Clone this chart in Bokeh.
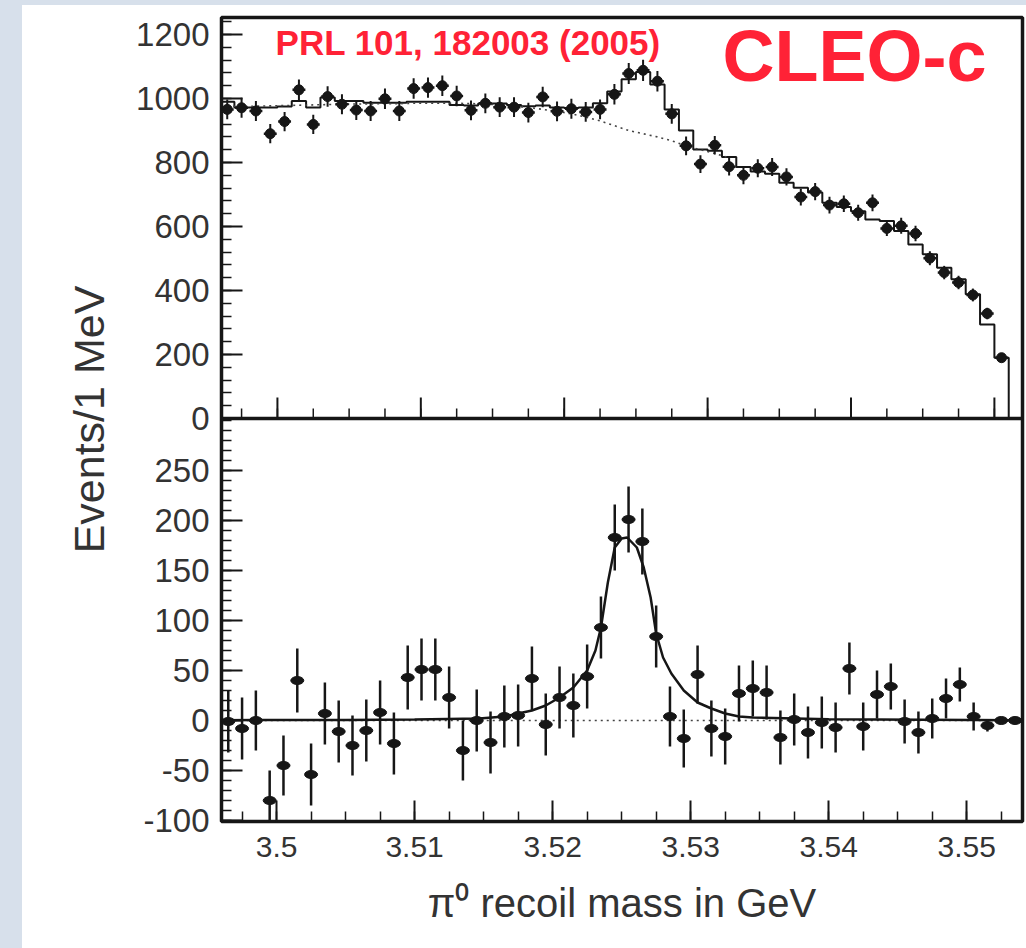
import numpy as np
from bokeh.plotting import figure
from bokeh.models import (Range1d, FixedTicker, NumeralTickFormatter,
                          Label, Span, Div, ColumnDataSource)
from bokeh.layouts import column, row
from bokeh.embed import file_html
from bokeh.resources import INLINE

# ------------------------------------------------------------------ data
bin_start = 3.4965      # GeV, centre of first 1 MeV bin
bin_width = 0.001       # GeV

# upper panel: events per 1 MeV
top_counts = [966, 971, 961, 890, 928, 1027, 919, 1006, 982, 964,
              961, 999, 961, 1031, 1034, 1040, 1008, 963, 985, 973,
              973, 956, 1005, 960, 968, 958, 966, 1013, 1078, 1088,
              1054, 952, 852, 795, 854, 787, 760, 782, 786, 755,
              692, 709, 667, 671, 643, 674, 594, 602, 578, 501,
              456, 425, 386, 328, 190]
top_errors = [31, 31, 31, 30, 30, 32, 30, 32, 31, 31,
              31, 32, 31, 32, 32, 32, 32, 31, 31, 31,
              31, 31, 32, 31, 31, 31, 31, 32, 33, 33,
              32, 31, 29, 28, 29, 28, 28, 28, 28, 27,
              26, 27, 26, 26, 25, 26, 24, 25, 24, 22,
              21, 21, 20, 18, 14]
# total fit (histogram, one level per bin)
top_fit = [990, 972, 972, 972, 975, 992, 972, 1003, 992, 992,
           987, 987, 987, 990, 990, 990, 980, 978, 984, 984,
           980, 976, 978, 972, 970, 972, 985, 1022, 1060, 1083,
           1044, 966, 900, 841, 837, 817, 786, 772, 765, 737,
           721, 706, 674, 661, 648, 622, 617, 586, 544, 513,
           471, 435, 388, 294, 190]
# background-only part of the fit (dotted), where it is visible
top_bkg = [975, 976, 976, 977, 978, 979, 980, 981, 982, 983,
           983, 984, 984, 985, 985, 985, 985, 984, 983, 980,
           977, 972, 966, 960, 952, 942, 930, 915, 900, 890,
           880, 868, 852, 840, 828, 815]

# lower panel: background-subtracted events per 1 MeV
bot_counts = [-1, -8, 0, -80, -45, 40, -54, 7, -11, -25,
              -10, 8, -23, 43, 51, 51, 23, -30, 0, -22,
              4, 5, 42, -4, 23, 15, 44, 93, 183, 201,
              179, 84, 4, -18, 46, -8, -16, 27, 32, 28,
              -17, 1, -12, -2, -7, 52, -6, 26, 34, -1,
              -12, 2, 22, 36, 4, -5, 0, 0]
bot_errors = [31, 31, 30, 30, 30, 32, 31, 31, 31, 30,
              31, 32, 31, 32, 31, 31, 31, 30, 31, 31,
              31, 31, 32, 31, 31, 32, 32, 31, 33, 33,
              33, 31, 30, 29, 29, 28, 28, 28, 28, 27,
              27, 26, 26, 26, 25, 26, 24, 24, 23, 22,
              21, 20, 20, 17, 14, 6, 3, 2]
# signal fit curve
sig_x = [3.4961, 3.5050, 3.5100, 3.5147, 3.5165, 3.5175, 3.5185, 3.5195,
         3.5205, 3.5215, 3.5225, 3.5231, 3.5235, 3.5240, 3.5245, 3.5250,
         3.5254, 3.5261, 3.5266, 3.5271, 3.5275, 3.5280, 3.5286, 3.5295,
         3.5305, 3.5315, 3.5325, 3.5335, 3.5345, 3.5400, 3.5540]
sig_y = [0.3, 0.6, 1.0, 2.0, 4, 7, 10, 15,
         23, 33, 50, 70, 93, 138, 173, 182,
         183, 173, 153, 123, 87, 63, 47, 30,
         18, 12, 7, 4, 3, 1.2, 0.3]
zero_x = [3.4961, 3.5540]
zero_y = [0, 0]

x_ticks = [3.50, 3.51, 3.52, 3.53, 3.54, 3.55]
top_y_ticks = [0, 200, 400, 600, 800, 1000, 1200]
bot_y_ticks = [-100, -50, 0, 50, 100, 150, 200, 250]

# ------------------------------------------------------------------ style
FONT = "Liberation Sans"
INK = "#161616"
TXT = "#333333"
RED = "#ff2236"
BLUE = "#d7e0eb"
FRAME_H = 804            # frame height in px
MAJOR_LEN = 21           # tick lengths in px
MINOR_LEN = 10

# ranges: one frame holds both panels
xb = Range1d(3.49601, 3.55404)          # lower panel x
yb = Range1d(-101, 703)                 # lower panel y
xt = Range1d(3.4961, 3.55196)           # upper panel x
yt = Range1d(-1259.375, 1253.125)       # upper panel y


def top_to_main(v):
    return round(yb.start + (v - yt.start) * (yb.end - yb.start) / (yt.end - yt.start), 6)


boundary = top_to_main(0)
top_per_px = (yt.end - yt.start) / FRAME_H

p = figure(width=1004, height=943, x_range=xb, y_range=yb,
           output_backend="svg", toolbar_location=None,
           min_border_left=199, min_border_right=4,
           min_border_top=12, min_border_bottom=127,
           background_fill_color="white", border_fill_color="white")
p.extra_x_ranges = {"topx": xt}
p.extra_y_ranges = {"topy": yt}
p.grid.visible = False
p.outline_line_color = INK
p.outline_line_width = 3.5

# ---- left axis (ticks of both panels)
y_major = [float(v) for v in bot_y_ticks] + [top_to_main(v) for v in top_y_ticks]
y_minor = [float(v) for v in range(-100, 301, 10)] + [top_to_main(v) for v in range(0, 1260, 40)]
overrides = {float(v): str(v) for v in bot_y_ticks}
overrides.update({top_to_main(v): str(v) for v in top_y_ticks})
ya = p.yaxis[0]
ya.ticker = FixedTicker(ticks=y_major, minor_ticks=y_minor)
ya.major_label_overrides = overrides
ya.axis_line_color = None
ya.major_tick_in = MAJOR_LEN
ya.major_tick_out = 0
ya.minor_tick_in = MINOR_LEN
ya.minor_tick_out = 0
ya.major_tick_line_color = INK
ya.minor_tick_line_color = INK
ya.major_tick_line_width = 2
ya.minor_tick_line_width = 1.5
ya.major_label_standoff = 12
ya.major_label_text_font = FONT
ya.major_label_text_font_size = "33px"
ya.major_label_text_color = TXT
ya.axis_label = "Events/1 MeV"
ya.axis_label_text_font = FONT
ya.axis_label_text_font_size = "43px"
ya.axis_label_text_font_style = "normal"
ya.axis_label_text_color = TXT
ya.axis_label_standoff = 20

x_minor = list(np.round(np.arange(3.4975, 3.5551, 0.0025), 4))

# ---- lower x axis
xa = p.xaxis[0]
xa.ticker = FixedTicker(ticks=x_ticks, minor_ticks=x_minor)
xa.formatter = NumeralTickFormatter(format="0.0[0]")
xa.axis_line_color = None
xa.major_tick_in = MAJOR_LEN
xa.major_tick_out = 0
xa.minor_tick_in = MINOR_LEN
xa.minor_tick_out = 0
xa.major_tick_line_color = INK
xa.minor_tick_line_color = INK
xa.major_tick_line_width = 2
xa.minor_tick_line_width = 1.5
xa.major_label_standoff = 15
xa.major_label_text_font = FONT
xa.major_label_text_font_size = "30px"
xa.major_label_text_color = TXT
xa.axis_label = "\u03c0\u2070 recoil mass in GeV"
xa.axis_label_text_font = FONT
xa.axis_label_text_font_size = "40px"
xa.axis_label_text_font_style = "normal"
xa.axis_label_text_color = TXT
xa.axis_label_standoff = 21

# ---- upper panel x ticks on the panel boundary (no labels)
p.segment(x0=x_ticks, y0=[0] * len(x_ticks), x1=x_ticks,
          y1=[MAJOR_LEN * top_per_px] * len(x_ticks),
          x_range_name="topx", y_range_name="topy", line_color=INK, line_width=2)
p.segment(x0=x_minor, y0=[0] * len(x_minor), x1=x_minor,
          y1=[MINOR_LEN * top_per_px] * len(x_minor),
          x_range_name="topx", y_range_name="topy", line_color=INK, line_width=1.5)

p.add_layout(Span(location=boundary, dimension="width", line_color=INK, line_width=3.5))

# ------------------------------------------------------------------ upper panel glyphs
tx = bin_start + bin_width * np.arange(len(top_counts))
tc = np.array(top_counts, dtype=float)
te = np.array(top_errors, dtype=float)
src_t = ColumnDataSource(dict(x=tx, y=tc, lo=tc - te, hi=tc + te,
                              xl=tx - 0.45 * bin_width, xr=tx + 0.45 * bin_width))

# fit histogram as steps
fx = bin_start + bin_width * np.arange(len(top_fit))
step_x, step_y = [], []
for c, lv in zip(fx, top_fit):
    step_x += [c - bin_width / 2, c + bin_width / 2]
    step_y += [lv, lv]
step_x.append(fx[-1] + bin_width / 2)
step_y.append(0)
p.line(step_x, step_y, x_range_name="topx", y_range_name="topy",
       line_color=INK, line_width=2)

bx = bin_start + bin_width * np.arange(len(top_bkg))
p.line(bx, top_bkg, x_range_name="topx", y_range_name="topy",
       line_color="#444444", line_width=1.6, line_dash="2 4")

p.segment(x0="x", y0="lo", x1="x", y1="hi", source=src_t,
          x_range_name="topx", y_range_name="topy", line_color=INK, line_width=2)
p.segment(x0="xl", y0="y", x1="xr", y1="y", source=src_t,
          x_range_name="topx", y_range_name="topy", line_color=INK, line_width=2.5)
p.scatter(x="x", y="y", source=src_t, x_range_name="topx", y_range_name="topy",
          marker="circle", size=10, fill_color=INK, line_color=INK)

# ------------------------------------------------------------------ lower panel glyphs
bxs = bin_start + bin_width * np.arange(len(bot_counts))
bc = np.array(bot_counts, dtype=float)
be = np.array(bot_errors, dtype=float)
src_b = ColumnDataSource(dict(x=bxs, y=bc, lo=bc - be, hi=bc + be))

p.line(zero_x, zero_y, line_color="#444444", line_width=1.6, line_dash="2 4")
p.line(sig_x, sig_y, line_color=INK, line_width=2.5)
p.segment(x0="x", y0="lo", x1="x", y1="hi", source=src_b, line_color=INK, line_width=2.5)
p.ellipse(x="x", y="y", width=13, height=8, width_units="screen", height_units="screen",
          source=src_b, fill_color=INK, line_color=INK)

# ------------------------------------------------------------------ red annotations
p.add_layout(Label(x=3.49987, y=1174, x_range_name="topx", y_range_name="topy",
                   text="PRL 101, 182003 (2005)", text_font=FONT, text_font_size="35px",
                   text_font_style="bold", text_color=RED, text_baseline="middle"))
p.add_layout(Label(x=3.53104, y=1132, x_range_name="topx", y_range_name="topy",
                   text="CLEO-c", text_font=FONT, text_font_size="72px",
                   text_font_style="bold", text_color=RED, text_baseline="middle"))

# ------------------------------------------------------------------ page
top_strip = Div(width=1026, height=5, margin=(0, 0, 0, 0),
                styles={"background-color": BLUE})
left_strip = Div(width=22, height=943, margin=(0, 0, 0, 0),
                 styles={"background-color": BLUE})
layout = column(top_strip, row(left_strip, p, spacing=0), spacing=0)

open("out.html", "w").write(file_html(layout, INLINE))
